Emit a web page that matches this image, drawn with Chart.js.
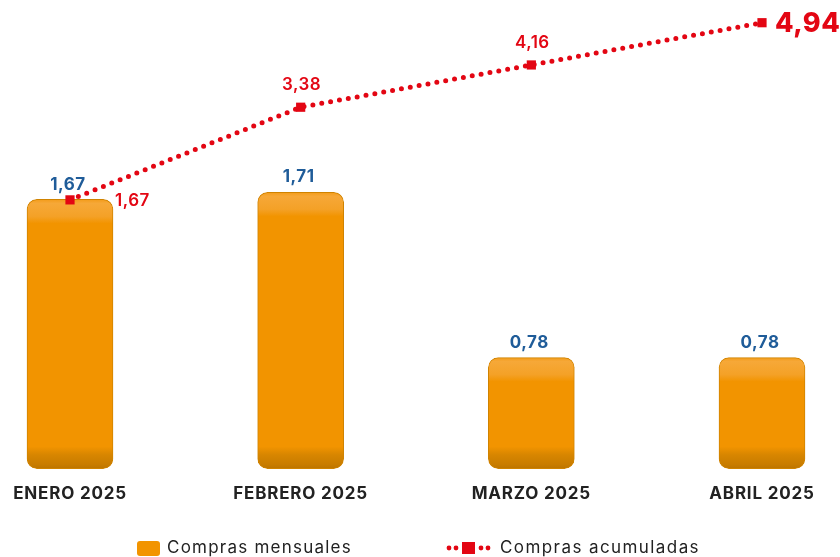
<!DOCTYPE html>
<html>
<head>
<meta charset="utf-8">
<script src="https://cdn.jsdelivr.net/npm/chart.js@4.4.1/dist/chart.umd.min.js"></script>
<style>
  html, body { margin: 0; padding: 0; background: #fff; }
  #wrap { width: 840px; height: 557px; position: relative; }
</style>
</head>
<body>
<div id="wrap"><canvas id="comprasChart" width="840" height="557"></canvas></div>
<script>
const meses = ['ENERO 2025', 'FEBRERO 2025', 'MARZO 2025', 'ABRIL 2025'];
const comprasMensuales = [1.67, 1.71, 0.78, 0.78];
const comprasAcumuladas = [1.67, 3.38, 4.16, 4.94];
const leyenda = ['Compras mensuales', 'Compras acumuladas'];

const ROJO = '#E30613';
const AZUL = '#1F5C99';
const NARANJA = '#F29400';
const FONT = 'Inter, "Open Sans", sans-serif';
const Y_MIN = 0.155;

const fmt = v => v.toFixed(2).replace('.', ',');

function barGradient(ctx) {
    const chart = ctx.chart;
    const area = chart.chartArea;
    if (!area || ctx.parsed === undefined) return NARANJA;
    const top = chart.scales.y.getPixelForValue(ctx.parsed.y);
    const base = area.bottom;
    const h = Math.max(base - top, 1);
    const g = chart.ctx.createLinearGradient(0, top, 0, base);
    const s = px => Math.min(Math.max(px / h, 0), 1);
    g.addColorStop(0, '#F39C1A');
    g.addColorStop(s(4), '#F6A838');
    g.addColorStop(s(17), '#F4A127');
    g.addColorStop(s(24), NARANJA);
    g.addColorStop(s(h - 22), NARANJA);
    g.addColorStop(s(h - 14), '#D88600');
    g.addColorStop(s(h - 4), '#C87C00');
    g.addColorStop(1, '#BC7400');
    return g;
}

// draw text stretched to a target width with letter spacing
function fitText(c, txt, x, y, width) {
    c.letterSpacing = '0px';
    const w = c.measureText(txt).width;
    const sp = Math.max((width - w) / txt.length, 0);
    c.letterSpacing = sp.toFixed(2) + 'px';
    c.fillText(txt, x, y);
    c.letterSpacing = '0px';
}

const labelsPlugin = {
    id: 'labelsPlugin',
    beforeDraw(chart) {
        chart.ctx.letterSpacing = '0.8px';
    },
    afterDatasetsDraw(chart) {
        const c = chart.ctx;
        c.save();
        c.letterSpacing = '0.5px';
        // bar values
        const barMeta = chart.getDatasetMeta(0);
        c.fillStyle = AZUL;
        c.font = '700 17px ' + FONT;
        c.textAlign = 'center';
        c.textBaseline = 'middle';
        barMeta.data.forEach((el, i) => {
            c.fillText(fmt(comprasMensuales[i]), el.x - 2, el.y - 15);
        });
        // line values
        const lineMeta = chart.getDatasetMeta(1);
        c.fillStyle = ROJO;
        lineMeta.data.forEach((el, i) => {
            const txt = fmt(comprasAcumuladas[i]);
            if (i === 0) {
                c.font = '600 17px ' + FONT;
                c.textAlign = 'left';
                c.fillText(txt, el.x + 45, el.y + 1);
            } else if (i === lineMeta.data.length - 1) {
                c.font = '800 27px ' + FONT;
                c.textAlign = 'left';
                c.fillText(txt, el.x + 13, el.y + 1);
            } else {
                c.font = '600 17px ' + FONT;
                c.textAlign = 'center';
                c.fillText(txt, el.x + 1, el.y - 22);
            }
        });
        c.restore();
    },
    afterDraw(chart) {
        const c = chart.ctx;
        const y = 548;
        c.save();
        c.letterSpacing = '0px';
        // orange box
        c.fillStyle = NARANJA;
        c.beginPath();
        c.roundRect(137, y - 7, 23, 15, 3);
        c.fill();
        c.font = '400 17px ' + FONT;
        c.fillStyle = '#222';
        c.textAlign = 'left';
        c.textBaseline = 'middle';
        fitText(c, leyenda[0], 167, y, 185);
        // red dotted line with square
        c.fillStyle = ROJO;
        [449, 456, 481, 488].forEach(x => {
            c.beginPath();
            c.arc(x, y, 2.4, 0, Math.PI * 2);
            c.fill();
        });
        c.fillRect(462, y - 6, 13, 12);
        c.fillStyle = '#222';
        fitText(c, leyenda[1], 500, y, 200);
        c.restore();
        c.letterSpacing = '0px';
    }
};

new Chart(document.getElementById('comprasChart'), {
    data: {
        labels: meses,
        datasets: [{
            type: 'bar',
            label: leyenda[0],
            data: comprasMensuales,
            base: Y_MIN,
            backgroundColor: barGradient,
            borderColor: '#D08300',
            borderWidth: 1,
            borderRadius: 10,
            borderSkipped: false,
            barThickness: 86,
            clip: false,
            order: 1,
            yAxisID: 'y'
        }, {
            type: 'line',
            label: leyenda[1],
            data: comprasAcumuladas,
            borderColor: ROJO,
            borderWidth: 5,
            borderDash: [0, 9],
            borderCapStyle: 'round',
            pointStyle: 'rect',
            pointRadius: 6.5,
            pointBackgroundColor: ROJO,
            pointBorderWidth: 0,
            tension: 0,
            clip: false,
            order: 0,
            yAxisID: 'y1'
        }]
    },
    options: {
        responsive: false,
        animation: false,
        layout: { padding: { left: 70, right: 78, top: 20, bottom: 38 } },
        plugins: {
            legend: { display: false },
            tooltip: { enabled: false }
        },
        scales: {
            x: {
                offset: false,
                grid: { display: false, drawTicks: false },
                border: { display: false },
                ticks: {
                    color: '#222',
                    font: { family: FONT, size: 17, weight: '700' },
                    padding: 15,
                    maxRotation: 0,
                    autoSkip: false
                }
            },
            y: {
                display: false,
                min: Y_MIN,
                max: 2.68
            },
            y1: {
                display: false,
                min: -3.29,
                max: 4.99
            }
        }
    },
    plugins: [labelsPlugin]
});
</script>
</body>
</html>
